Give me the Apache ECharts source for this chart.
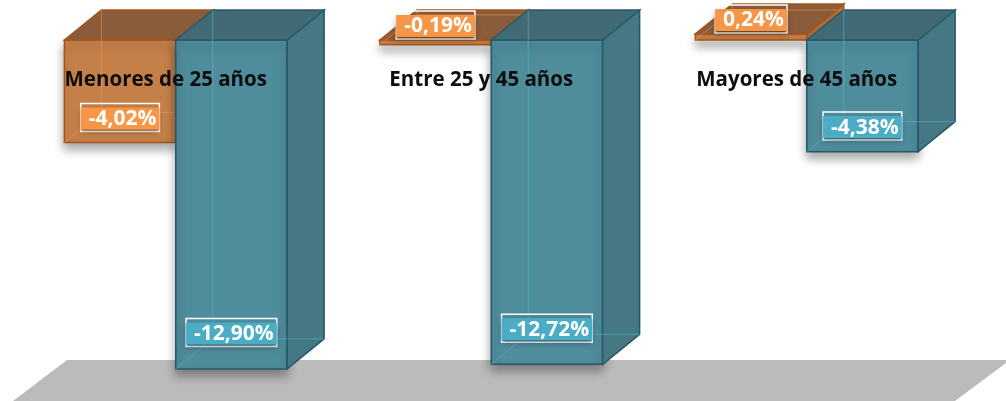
<!DOCTYPE html>
<html>
<head>
<meta charset="utf-8">
<script src="https://cdn.jsdelivr.net/npm/echarts@6/dist/echarts.min.js"></script>
<style>
    html, body { margin: 0; padding: 0; background: #fff; }
    #chart { width: 1006px; height: 401px; }
</style>
</head>
<body>
<div id="chart"></div>
<script>
var categories = ['Menores de 25 años', 'Entre 25 y 45 años', 'Mayores de 45 años'];
var orangeValues = [-4.02, -0.19, 0.24];
var tealValues = [-12.90, -12.72, -4.38];

var orangeStyle = {
    front: '#C5804A', side: '#A86A3C', top: '#8B5C3A',
    edge: '#A4541A', inner: '#F2924A', label: '#F79646'
};
var tealStyle = {
    front: '#4F8C9C', side: '#467883', top: '#426A75',
    edge: '#24596A', inner: '#58B4CB', label: '#4BACC6'
};

function fmt(v) {
    return v.toFixed(2).replace('.', ',') + '%';
}

/**
 * Builds a renderItem that draws one pseudo-3D box per value.
 * side: -1 -> box left of the category centre, 1 -> right of it
 */
function boxRenderer(side, st) {
    return function (params, api) {
        var idx = api.value(0);
        var val = api.value(1);
        var zero = api.coord([idx, 0]);
        var end = api.coord([idx, val]);
        var band = api.size([1, 0])[0];
        var w = band * 0.353;
        var dx = 37, dy = -30;
        var x0 = side < 0 ? zero[0] - w : zero[0];
        var x1 = x0 + w;
        var yTop = Math.min(zero[1], end[1]);
        var yBot = Math.max(zero[1], end[1]);
        var h = yBot - yTop;

        // value label placement, like the original sheet
        var cx = (x0 + x1) / 2;
        var cy = Math.abs(val) < 1 ? yTop - 15 : yBot - (20 + 0.05 * h);

        return {
            type: 'group',
            children: [
                {
                    type: 'rect',
                    shape: { x: x0, y: yTop, width: w, height: h },
                    style: {
                        fill: st.front, stroke: st.edge, lineWidth: 1.5,
                        shadowBlur: 10, shadowColor: 'rgba(0,0,0,0.35)', shadowOffsetY: 6
                    }
                },
                {
                    type: 'polygon',
                    shape: { points: [[x1, yTop], [x1 + dx, yTop + dy], [x1 + dx, yBot + dy], [x1, yBot]] },
                    style: { fill: st.side, stroke: st.edge, lineWidth: 1.5 }
                },
                {
                    type: 'polygon',
                    shape: { points: [[x0, yTop], [x0 + dx, yTop + dy], [x1 + dx, yTop + dy], [x1, yTop]] },
                    style: { fill: st.top, stroke: st.edge, lineWidth: 1.5 }
                },
                {
                    type: 'polyline',
                    shape: { points: [[x0 + dx, yTop + dy], [x0 + dx, yBot + dy], [x1 + dx, yBot + dy]] },
                    style: { stroke: st.inner, lineWidth: 1, opacity: 0.6, fill: null }
                },
                {
                    type: 'line',
                    shape: { x1: x0, y1: yBot, x2: x0 + dx, y2: yBot + dy },
                    style: { stroke: st.inner, lineWidth: 1, opacity: 0.6 }
                },
                {
                    type: 'text',
                    x: cx, y: cy,
                    style: {
                        text: '{v|' + fmt(val) + '}',
                        align: 'center', verticalAlign: 'middle',
                        borderColor: '#fff', borderWidth: 1.5,
                        padding: [4, 0, 2, 0],
                        rich: {
                            v: {
                                fill: '#fff',
                                font: 'bold 21px "Open Sans"',
                                backgroundColor: st.label,
                                padding: [1, 3, 0, 8],
                                shadowBlur: 6, shadowColor: 'rgba(0,0,0,0.3)', shadowOffsetY: 3
                            }
                        }
                    }
                }
            ]
        };
    };
}

var chart = echarts.init(document.getElementById('chart'));
var options = {
    animation: false,
    graphic: [{
        type: 'polygon',
        z: 0,
        shape: { points: [[13, 401], [67, 360], [1010, 360], [955, 401]] },
        style: { fill: '#BBBBBB' }
    }],
    grid: { left: 18, right: 41.5, top: 14.5, bottom: 4 },
    xAxis: {
        type: 'category',
        data: categories,
        position: 'top',
        z: 10,
        axisLine: { show: false },
        axisTick: { show: false },
        axisLabel: {
            inside: true,
            margin: 66,
            verticalAlign: 'middle',
            padding: [0, 20, 0, 0],
            color: '#0D0D0D',
            fontFamily: 'Open Sans',
            fontWeight: 'bold',
            fontSize: 20.5
        }
    },
    yAxis: {
        type: 'value',
        min: -14,
        max: 1,
        show: false,
        splitLine: { show: false }
    },
    series: [
        {
            type: 'custom',
            name: 'orange',
            renderItem: boxRenderer(-1, orangeStyle),
            encode: { x: 0, y: 1 },
            data: orangeValues.map(function (v, i) { return [i, v]; })
        },
        {
            type: 'custom',
            name: 'teal',
            renderItem: boxRenderer(1, tealStyle),
            encode: { x: 0, y: 1 },
            data: tealValues.map(function (v, i) { return [i, v]; })
        }
    ]
};
chart.setOption(options);
</script>
</body>
</html>
